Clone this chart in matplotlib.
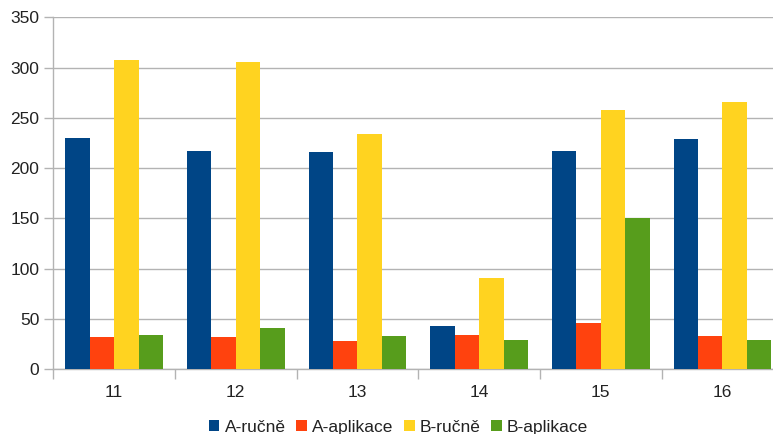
import matplotlib
matplotlib.use("Agg")
import matplotlib.pyplot as plt
import numpy as np

categories = ["11", "12", "13", "14", "15", "16"]
series_names = ["A-ručně", "A-aplikace", "B-ručně", "B-aplikace"]
a_rucne = [230, 217, 216, 43, 217, 229]
a_aplikace = [32, 32, 28, 34, 46, 33]
b_rucne = [308, 306, 234, 91, 258, 266]
b_aplikace = [34, 41, 33, 29, 150, 29]
colors = ["#004586", "#ff420e", "#ffd320", "#579d1c"]

plt.rcParams["font.family"] = ["Liberation Sans", "DejaVu Sans"]

fig = plt.figure(figsize=(7.73, 4.34), dpi=100)
# plot area runs slightly past the right edge of the canvas
ax = fig.add_axes([53.3 / 773, 64.7 / 434, 730 / 773, 352 / 434])

x = np.arange(len(categories)) + 0.5
bw = 0.201
values = [a_rucne, a_aplikace, b_rucne, b_aplikace]
for i, (name, vals, col) in enumerate(zip(series_names, values, colors)):
    ax.bar(x + (i - 1.5) * bw, vals, width=bw, color=col, label=name, zorder=3)

ax.set_xlim(0, len(categories))
ax.set_ylim(0, 350)
ax.set_yticks(np.arange(0, 351, 50))
ax.set_xticks(np.arange(0, len(categories) + 1))
ax.set_xticklabels([])
ax.set_xticks(x, minor=True)
ax.set_xticklabels(categories, minor=True)
ax.tick_params(axis="x", which="minor", length=0, pad=11, labelsize=12.5, colors="#222222")
ax.tick_params(axis="x", which="major", length=7.5, color="#b3b3b3", width=1)
ax.tick_params(axis="y", length=6.5, color="#b3b3b3", width=1, pad=3.5, labelsize=12.5, labelcolor="#222222")

ax.grid(axis="y", color="#b3b3b3", linewidth=1, zorder=0)
for s in ["top", "right"]:
    ax.spines[s].set_visible(False)
for s in ["left", "bottom"]:
    ax.spines[s].set_color("#b3b3b3")
    ax.spines[s].set_linewidth(1)

fig.legend(loc="lower center", bbox_to_anchor=(0.5155, -0.038), ncol=4, frameon=False,
           handlelength=0.62, handleheight=0.62, handletextpad=0.3, columnspacing=0.6,
           fontsize=12.5, labelcolor="#222222")

fig.savefig("out.png", dpi=100)
